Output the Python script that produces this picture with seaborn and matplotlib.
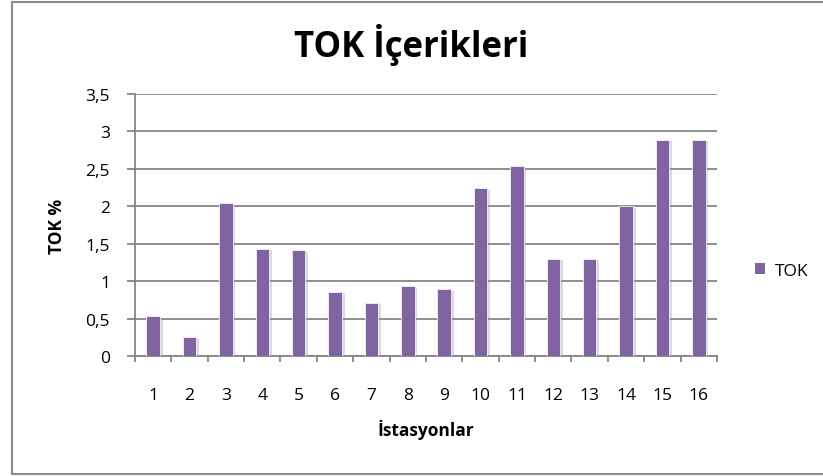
import matplotlib
matplotlib.use("Agg")
import numpy as np
import pandas as pd
import matplotlib.pyplot as plt
import matplotlib.patheffects as pe
import seaborn as sns
from matplotlib.ticker import FuncFormatter, FixedLocator
from matplotlib.lines import Line2D
from matplotlib.patches import Patch

stations = [str(i) for i in range(1, 17)]
tok_values = [0.53, 0.25, 2.04, 1.43, 1.41, 0.86, 0.71, 0.93,
              0.89, 2.24, 2.54, 1.30, 1.30, 2.00, 2.89, 2.89]
y_ticks = [0, 0.5, 1, 1.5, 2, 2.5, 3, 3.5]
bar_color = '#8064A2'

sns.set_theme(style="white")
plt.rcParams['font.family'] = ['Open Sans', 'DejaVu Sans']
plt.rcParams.update({'text.color': 'black', 'axes.labelcolor': 'black',
                     'xtick.color': 'black', 'ytick.color': 'black'})

df = pd.DataFrame({'İstasyonlar': stations, 'TOK': tok_values})

fig = plt.figure(figsize=(8.23, 4.77), dpi=100)
ax = fig.add_axes([0.164, 0.2516, 0.7072, 0.5492])

grid_col = '#868686'
sns.barplot(data=df, x='İstasyonlar', y='TOK', color=bar_color, width=0.37,
            saturation=1, ax=ax, zorder=3, edgecolor='#f4f1f8', linewidth=0.6)
for bar in ax.patches:
    bar.set_path_effects([pe.SimplePatchShadow(offset=(2, -1), shadow_rgbFace='#9a9a9a', alpha=0.35),
                          pe.Normal()])

ax.set_ylim(0, 3.5)
ax.set_xlim(-0.5, 15.5)
ax.yaxis.set_major_locator(FixedLocator(y_ticks))
ax.yaxis.set_major_formatter(FuncFormatter(lambda v, p: f'{v:g}'.replace('.', ',')))
ax.yaxis.grid(True, color=grid_col, linewidth=1.3, zorder=0)
ax.set_axisbelow(True)

for s in ['top', 'right']:
    ax.spines[s].set_visible(False)
for s in ['left', 'bottom']:
    ax.spines[s].set_color(grid_col)
    ax.spines[s].set_linewidth(1.3)

ax.tick_params(axis='y', which='major', length=6, color=grid_col, width=1.3,
               left=True, labelsize=12.5, pad=12, labelcolor='black')
ax.tick_params(axis='x', which='major', length=0, labelsize=12.5, pad=22, labelcolor='black')
ax.set_xticks(np.arange(-0.5, 16, 1), minor=True)
ax.tick_params(axis='x', which='minor', length=4, color=grid_col, width=1.3, bottom=True)

ax.set_xlabel('İstasyonlar', fontsize=12.5, fontweight='bold', labelpad=12)
ax.set_ylabel('TOK %', fontsize=12.5, fontweight='bold', labelpad=14)

fig.text(0.5, 0.906, 'TOK İçerikleri', ha='center', va='center',
         fontsize=25, fontweight='bold')

handle = Patch(facecolor=bar_color, edgecolor='none', label='TOK')
fig.legend(handles=[handle], loc='center left', bbox_to_anchor=(755 / 823, 1 - 272 / 477),
           frameon=False, fontsize=12.5, handlelength=0.6, handleheight=0.6,
           handletextpad=0.55, borderaxespad=0, borderpad=0)

# chart area border (left, top, bottom visible)
bx0, by0, by1 = 11.5 / 823, 1 - 475 / 477, 1 - 3 / 477
for xs, ys in [([bx0, bx0], [by0, by1]), ([bx0, 1.0], [by1, by1]), ([bx0, 1.0], [by0, by0])]:
    fig.add_artist(Line2D(xs, ys, transform=fig.transFigure, color='#8c8c8c', linewidth=1.5))

fig.savefig('out.png', dpi=100)
